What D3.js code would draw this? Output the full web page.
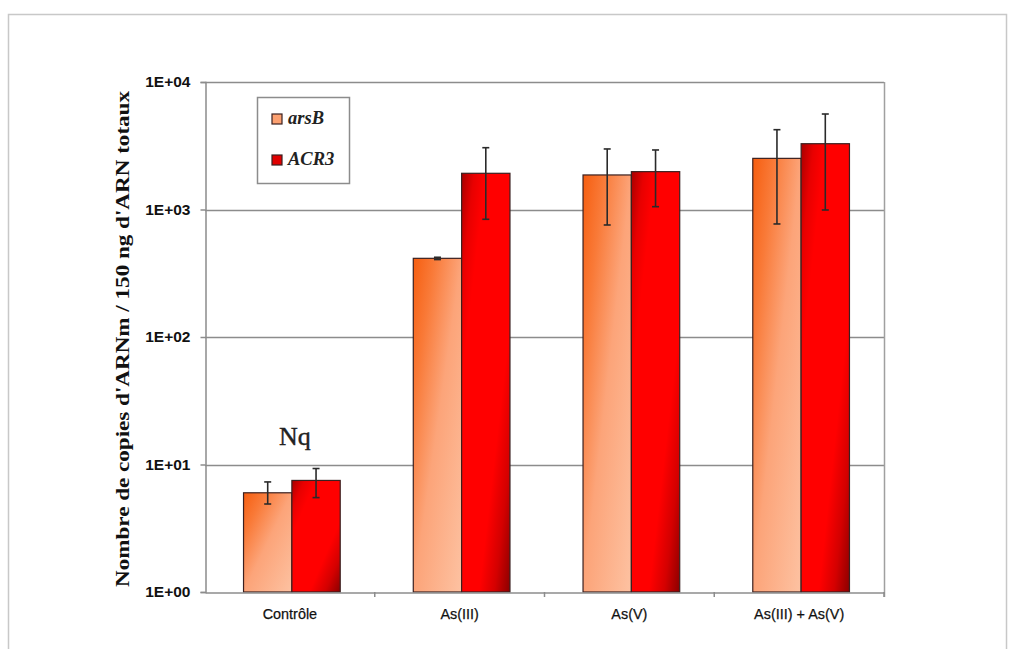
<!DOCTYPE html>
<html>
<head>
<meta charset="utf-8">
<script src="https://cdn.jsdelivr.net/npm/d3@7"></script>
<style>
  html, body { margin: 0; padding: 0; background: #fff; }
  svg { display: block; }
</style>
</head>
<body>
<svg id="chart" width="1016" height="649"></svg>
<script>
// ---- data ----
const categories = ["Contrôle", "As(III)", "As(V)", "As(III) + As(V)"];
const seriesNames = ["arsB", "ACR3"];
const arsB      = [6.0, 414, 1866, 2518];
const arsBLow   = [4.9, 405, 756, 770];
const arsBHigh  = [7.3, 422, 2984, 4226];
const acr3      = [7.5, 1923, 1981, 3281];
const acr3Low   = [5.5, 838, 1052, 991];
const acr3High  = [9.3, 3053, 2930, 5610];
const yTickValues = [1, 10, 100, 1000, 10000];
const yTickLabels = ["1E+00", "1E+01", "1E+02", "1E+03", "1E+04"];
const yTitle = "Nombre de copies d'ARNm / 150 ng d'ARN totaux";
const annotation = "Nq";

const svg = d3.select("#chart");
const M = { left: 205, right: 884, top: 82, bottom: 592 };

// gradients
const defs = svg.append("defs");
const gA = defs.append("linearGradient").attr("id", "gArsB")
  .attr("x1", 0).attr("y1", 0).attr("x2", 1).attr("y2", 1);
[[0, "#f65e10"], [0.22, "#f97a38"], [0.5, "#fca479"], [1, "#fdc2a2"]]
  .forEach(([o, c]) => gA.append("stop").attr("offset", o).attr("stop-color", c));
const gB = defs.append("linearGradient").attr("id", "gAcr3")
  .attr("x1", 0).attr("y1", 0).attr("x2", 1).attr("y2", 1);
[[0, "#a80000"], [0.13, "#e80000"], [0.25, "#ff0000"], [0.68, "#ff0000"], [0.84, "#d40000"], [1, "#8a0000"]]
  .forEach(([o, c]) => gB.append("stop").attr("offset", o).attr("stop-color", c));

// outer frame
svg.append("rect").attr("x", 8.5).attr("y", 14.5).attr("width", 998).attr("height", 700)
  .attr("fill", "none").attr("stroke", "#c8c8c8").attr("stroke-width", 1.5);

// scales
const x = d3.scaleBand().domain(categories).range([M.left, M.right]).paddingInner(0).paddingOuter(0);
const y = d3.scaleLog().domain([1, 10000]).range([M.bottom, M.top]);
const xs = d3.scaleBand().domain(seriesNames).range([3, x.bandwidth() + 1]).paddingOuter(0.735).paddingInner(0);

// grid
svg.append("g").selectAll("line").data(yTickValues.slice(1)).join("line")
  .attr("x1", M.left).attr("x2", M.right)
  .attr("y1", d => Math.round(y(d)) + 0.5).attr("y2", d => Math.round(y(d)) + 0.5)
  .attr("stroke", "#8c8c8c").attr("stroke-width", 1.5);
// right border
svg.append("line").attr("x1", M.right + 0.5).attr("x2", M.right + 0.5)
  .attr("y1", M.top).attr("y2", M.bottom + 5)
  .attr("stroke", "#a0a0a0").attr("stroke-width", 1.5);

// bars
const series = [
  { name: "arsB", vals: arsB, lo: arsBLow, hi: arsBHigh, fill: "url(#gArsB)" },
  { name: "ACR3", vals: acr3, lo: acr3Low, hi: acr3High, fill: "url(#gAcr3)" }
];
series.forEach(s => {
  const g = svg.append("g");
  g.selectAll("rect").data(categories).join("rect")
    .attr("x", (c) => x(c) + xs(s.name))
    .attr("width", xs.bandwidth())
    .attr("y", (c, i) => y(s.vals[i]))
    .attr("height", (c, i) => y(1) - y(s.vals[i]))
    .attr("fill", s.fill).attr("stroke", "#3a2020").attr("stroke-width", 1.2);
});
// error bars
series.forEach(s => {
  const g = svg.append("g").attr("stroke", "#2a2a2a").attr("stroke-width", 1.6);
  categories.forEach((c, i) => {
    const cx = x(c) + xs(s.name) + xs.bandwidth() / 2;
    g.append("line").attr("x1", cx).attr("x2", cx).attr("y1", y(s.lo[i])).attr("y2", y(s.hi[i]));
    [s.lo[i], s.hi[i]].forEach(v => {
      g.append("line").attr("x1", cx - 3.5).attr("x2", cx + 3.5).attr("y1", y(v)).attr("y2", y(v));
    });
  });
});

// y axis
const yAxis = svg.append("g").attr("transform", `translate(${M.left + 0.5},0)`)
  .call(d3.axisLeft(y).tickValues(yTickValues).tickFormat((d, i) => yTickLabels[i]).tickSize(5).tickPadding(10));
yAxis.select(".domain").attr("stroke", "#8c8c8c").attr("stroke-width", 1.5);
yAxis.selectAll(".tick line").attr("stroke", "#8c8c8c").attr("stroke-width", 1.5);
yAxis.selectAll(".tick text").attr("font-family", "Liberation Sans, Arial, sans-serif")
  .attr("font-weight", "bold").attr("font-size", 15.5).attr("fill", "#111");

// x axis
const xAxis = svg.append("g").attr("transform", `translate(0,${M.bottom + 0.5})`)
  .call(d3.axisBottom(x).tickSize(0).tickPadding(15));
xAxis.select(".domain").attr("stroke", "#8c8c8c").attr("stroke-width", 1.5);
xAxis.selectAll(".tick text").attr("font-family", "Liberation Sans, Arial, sans-serif")
  .attr("font-size", 15.5).attr("fill", "#111");
xAxis.selectAll(".tick text").attr("textLength", function() {
  return this.getComputedTextLength() * 0.93;
}).attr("lengthAdjust", "spacingAndGlyphs").attr("stroke", "#111").attr("stroke-width", 0.25);
// category separator ticks
svg.append("g").selectAll("line").data(categories).join("line")
  .attr("x1", c => x(c) + x.bandwidth()).attr("x2", c => x(c) + x.bandwidth())
  .attr("y1", M.bottom).attr("y2", M.bottom + 5)
  .attr("stroke", "#8c8c8c").attr("stroke-width", 1.5);

// y title
svg.append("text")
  .attr("transform", `translate(129,${(M.top + M.bottom) / 2 + 2}) rotate(-90)`)
  .attr("text-anchor", "middle")
  .attr("font-family", "Liberation Serif, Times New Roman, serif")
  .attr("font-weight", "bold").attr("font-size", 19).attr("fill", "#111")
  .attr("textLength", 496).attr("lengthAdjust", "spacingAndGlyphs")
  .text(yTitle);

// Nq
svg.append("text").attr("x", x(categories[0]) + x.bandwidth() / 2 + 5).attr("y", 445)
  .attr("text-anchor", "middle")
  .attr("font-family", "Liberation Serif, Times New Roman, serif")
  .attr("font-size", 26).attr("fill", "#222").attr("stroke", "#222").attr("stroke-width", 0.4)
  .text(annotation);

// legend
const lg = svg.append("g");
lg.append("rect").attr("x", 257.5).attr("y", 97.5).attr("width", 92).attr("height", 86)
  .attr("fill", "#fff").attr("stroke", "#8c8c8c").attr("stroke-width", 1.5);
const legendFills = ["#fca070", "#e00000"];
seriesNames.forEach((n, i) => {
  const yy = 114 + i * 41;
  lg.append("rect").attr("x", 272).attr("y", yy).attr("width", 10).attr("height", 10)
    .attr("fill", legendFills[i]).attr("stroke", "#3a2020").attr("stroke-width", 1.2);
  lg.append("text").attr("x", 288).attr("y", yy + 10)
    .attr("font-family", "Liberation Serif, Times New Roman, serif")
    .attr("font-style", "italic").attr("font-weight", "bold")
    .attr("font-size", 18.5).attr("fill", "#222").text(n);
});
</script>
</body>
</html>
